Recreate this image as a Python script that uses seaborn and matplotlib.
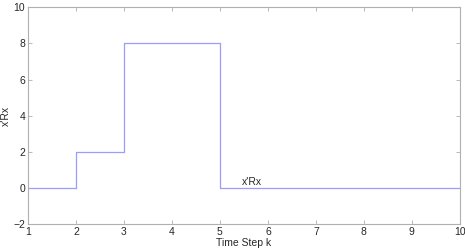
import numpy as np
import pandas as pd
import matplotlib
matplotlib.use("Agg")
import matplotlib.pyplot as plt
import seaborn as sns

# time steps and quadratic cost x'Rx
time_step = [1, 2, 3, 4, 5, 6, 7, 8, 9, 10]
xrx = [0, 2, 8, 8, 0, 0, 0, 0, 0, 0]
x_ticks = [1, 2, 3, 4, 5, 6, 7, 8, 9, 10]
y_ticks = [-2, 0, 2, 4, 6, 8, 10]

sns.set_style("white")
plt.rcParams['font.family'] = ['Liberation Sans', 'DejaVu Sans']

df = pd.DataFrame({'k': time_step, 'xRx': xrx})

fig = plt.figure(figsize=(4.65, 2.52), dpi=100)
ax = fig.add_axes([0.060, 0.111, 0.929, 0.860])

sns.lineplot(data=df, x='k', y='xRx', ax=ax, drawstyle='steps-post',
             color='#9c9cff', linewidth=0.9)

ax.set_xlim(1, 10)
ax.set_ylim(-2, 10)
ax.set_xticks(x_ticks)
ax.set_yticks(y_ticks)
ax.tick_params(direction='in', length=3, width=0.6, color='#b0b0b0',
               labelsize=7.5, top=True, right=True, bottom=True, left=True, pad=2)
for s in ax.spines.values():
    s.set_color('#b0b0b0')
    s.set_linewidth(0.8)

ax.set_xlabel('Time Step k', fontsize=7.5, labelpad=1)
ax.set_ylabel("x'Rx", fontsize=7.5, labelpad=2)
ax.text(5.45, 0.15, "x'Rx", fontsize=7.5)

fig.savefig('out.png', dpi=100)
